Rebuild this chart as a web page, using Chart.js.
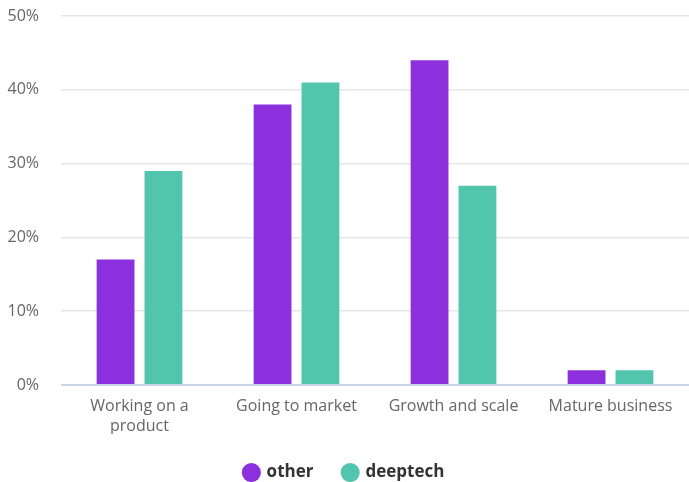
<!DOCTYPE html>
<html>
<head>
<meta charset="utf-8">
<script src="https://cdn.jsdelivr.net/npm/chart.js@4/dist/chart.umd.min.js"></script>
<style>
  html, body { margin: 0; padding: 0; background: #fff; }
  #wrap { width: 689px; height: 482px; position: relative; }
</style>
</head>
<body>
<div id="wrap"><canvas id="chart"></canvas></div>
<script>
const categories = [['Working on a', 'product'], 'Going to market', 'Growth and scale', 'Mature business'];
const otherValues = [17, 38, 44, 2];
const deeptechValues = [29, 41, 27, 2];
const yTicks = [0, 10, 20, 30, 40, 50];

const colors = {
    other: '#8b30dc',
    deeptech: '#52c5ad',
    grid: '#e6e6e6',
    axis: '#ccd6eb',
    text: '#666666'
};

Chart.defaults.font.family = '"Open Sans", "DejaVu Sans", sans-serif';

const ctx = document.getElementById('chart').getContext('2d');
new Chart(ctx, {
    type: 'bar',
    data: {
        labels: categories,
        datasets: [{
            label: 'other',
            data: otherValues,
            backgroundColor: colors.other,
            borderWidth: 0
        }, {
            label: 'deeptech',
            data: deeptechValues,
            backgroundColor: colors.deeptech,
            borderWidth: 0
        }]
    },
    options: {
        responsive: true,
        maintainAspectRatio: false,
        animation: false,
        // negative bottom padding lets the legend's wide item spacing hang off the canvas edge
        layout: { padding: { top: 0, right: 0, left: 0, bottom: -9 } },
        datasets: {
            bar: { categoryPercentage: 0.61, barPercentage: 0.79 }
        },
        scales: {
            y: {
                min: 0,
                max: 50,
                afterBuildTicks: scale => { scale.ticks = yTicks.map(v => ({ value: v })); },
                afterFit: scale => { scale.width = 61; scale.paddingTop = 16; },
                ticks: {
                    color: colors.text,
                    font: { size: 16 },
                    padding: 22,
                    callback: v => v + '%'
                },
                grid: {
                    color: ctx => ctx.tick && ctx.tick.value === 0 ? colors.axis : colors.grid,
                    lineWidth: ctx => ctx.tick && ctx.tick.value === 0 ? 2 : 1.5,
                    drawTicks: false
                },
                border: { display: false }
            },
            x: {
                afterFit: scale => { scale.height = 49; },
                ticks: {
                    color: colors.text,
                    font: { size: 16, lineHeight: 1.22 },
                    padding: 12,
                    maxRotation: 0
                },
                grid: { display: false, drawTicks: false },
                border: { display: false }
            }
        },
        plugins: {
            legend: {
                position: 'bottom',
                labels: {
                    usePointStyle: true,
                    pointStyle: 'circle',
                    boxWidth: 13.5,
                    boxHeight: 13.5,
                    padding: 30,
                    color: '#333333',
                    font: { size: 17, weight: 'bold' }
                }
            },
            tooltip: { enabled: false }
        }
    }
});
</script>
</body>
</html>
